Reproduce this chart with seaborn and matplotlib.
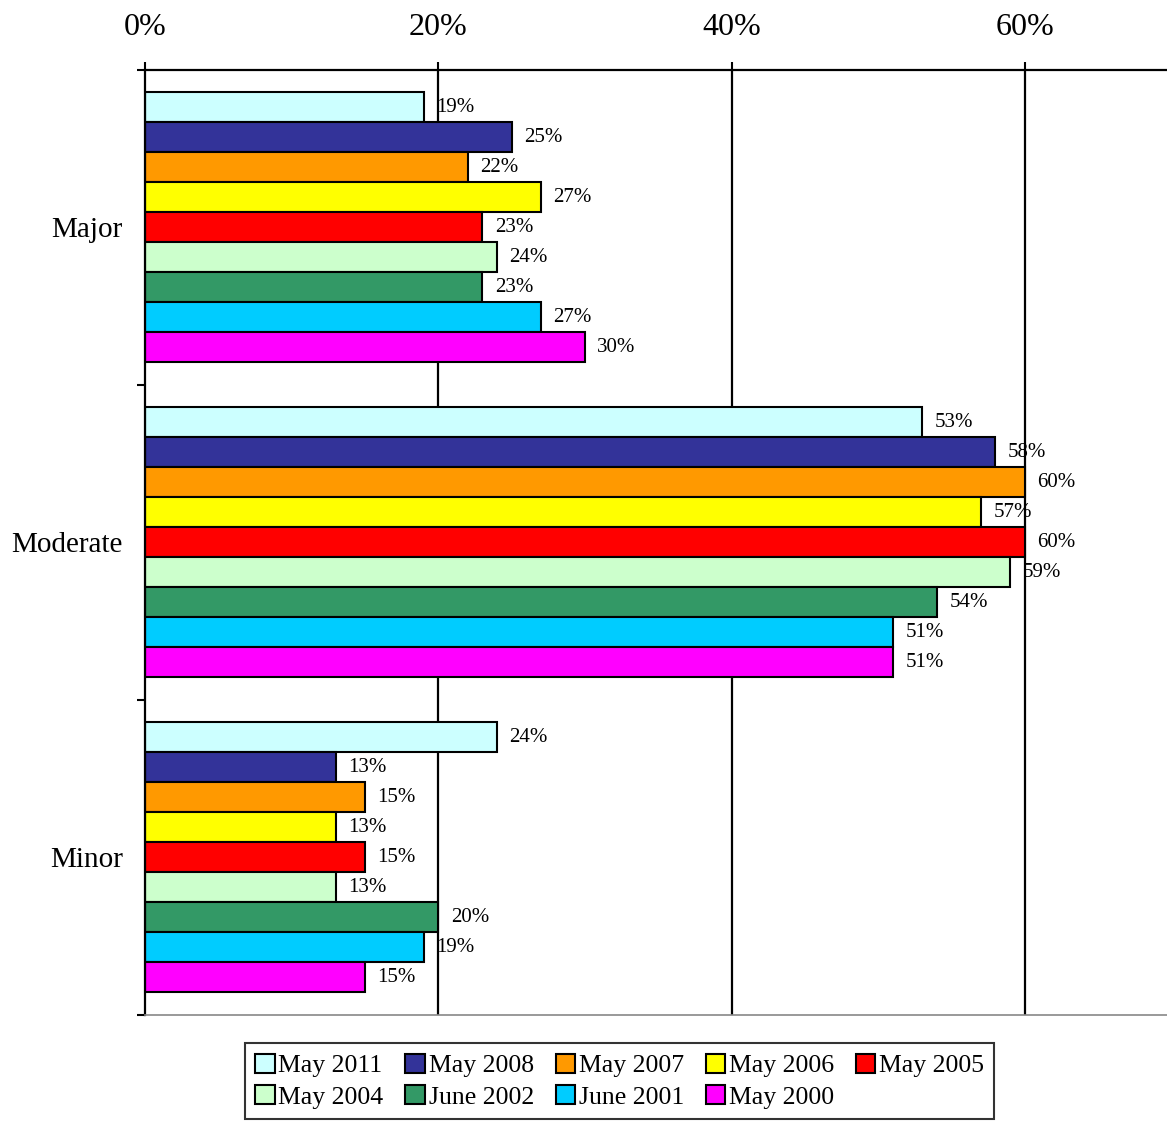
import numpy as np
import pandas as pd
import matplotlib
matplotlib.use("Agg")
import matplotlib.pyplot as plt
import seaborn as sns
from matplotlib.ticker import FixedLocator
from matplotlib.patches import Patch

# Survey waves (top to bottom within each group) and the impact categories
waves = ["May 2011", "May 2008", "May 2007", "May 2006", "May 2005",
         "May 2004", "June 2002", "June 2001", "May 2000"]
categories = ["Major", "Moderate", "Minor"]

# Percent of respondents per category, one list per category in wave order
major = [19, 25, 22, 27, 23, 24, 23, 27, 30]
moderate = [53, 58, 60, 57, 60, 59, 54, 51, 51]
minor = [24, 13, 15, 13, 15, 13, 20, 19, 15]

x_ticks = [0, 20, 40, 60]
x_tick_labels = ["0%", "20%", "40%", "60%"]

colors = ["#CCFFFF", "#333399", "#FF9900", "#FFFF00", "#FF0000",
          "#CCFFCC", "#339966", "#00CCFF", "#FF00FF"]

df = pd.DataFrame({
    "category": np.repeat(categories, len(waves)),
    "wave": waves * len(categories),
    "value": major + moderate + minor,
})

sns.set_theme(style="white")
plt.rcParams["font.family"] = ["Liberation Serif", "DejaVu Serif"]
plt.rcParams["text.color"] = "black"
plt.rcParams["xtick.labelcolor"] = "black"
plt.rcParams["ytick.labelcolor"] = "black"

fig = plt.figure(figsize=(11.67, 11.21), dpi=100)
ax = fig.add_axes([0.1243, 0.0946, 0.8757, 0.843])

sns.barplot(data=df, x="value", y="category", hue="wave",
            order=categories, hue_order=waves, palette=colors,
            orient="h", width=0.857, dodge=True, errorbar=None,
            edgecolor="black", linewidth=1.5, saturation=1,
            legend=False, ax=ax)

for cont in ax.containers:
    ax.bar_label(cont, fmt="%g%%", padding=9, fontsize=15, color="black")

ax.set_xlim(0, 69.7)
ax.set_ylim(2.5, -0.5)

# Percent axis on top with black vertical gridlines
ax.xaxis.set_ticks_position("top")
ax.xaxis.set_label_position("top")
ax.set_xticks(x_ticks)
ax.set_xticklabels(x_tick_labels, fontsize=23)
ax.tick_params(axis="x", direction="out", length=6, width=1.5,
               pad=14, color="black", top=True, bottom=False)
ax.grid(False)
for xv in x_ticks[1:]:
    ax.axvline(xv, color="black", linewidth=1.6, zorder=0)

# Category labels without marks; boundary marks between groups
ax.set_yticks(range(len(categories)))
ax.set_yticklabels(categories, fontsize=21)
ax.tick_params(axis="y", which="major", length=0, pad=16)
ax.yaxis.set_minor_locator(FixedLocator([-0.5, 0.5, 1.5, 2.5]))
ax.tick_params(axis="y", which="minor", direction="out", length=6,
               width=1.5, color="black", left=True)

ax.set_xlabel("")
ax.set_ylabel("")

for side in ["top", "left"]:
    ax.spines[side].set_color("black")
    ax.spines[side].set_linewidth(1.6)
ax.spines["right"].set_visible(False)
ax.spines["bottom"].set_color("#888888")
ax.spines["bottom"].set_linewidth(1.2)

# Legend laid out row by row: five waves on top, four below
handles = [Patch(facecolor=c, edgecolor="black", linewidth=1.5, label=w)
           for c, w in zip(colors, waves)]
ncol = 5
row_order = []
for j in range(ncol):
    row_order.append(j)
    if j + ncol < len(handles):
        row_order.append(j + ncol)
handles = [handles[i] for i in row_order]

leg = fig.legend(handles=handles, loc="center", ncol=ncol,
                 bbox_to_anchor=(0.531, 0.0355), fontsize=18.5,
                 frameon=True, fancybox=False, edgecolor="black",
                 handlelength=0.75, handleheight=0.75, handletextpad=0.15,
                 columnspacing=0.85, borderpad=0.4, labelspacing=0.32)
leg.get_frame().set_linewidth(1.5)

fig.savefig("out.png", dpi=100, facecolor="white")
